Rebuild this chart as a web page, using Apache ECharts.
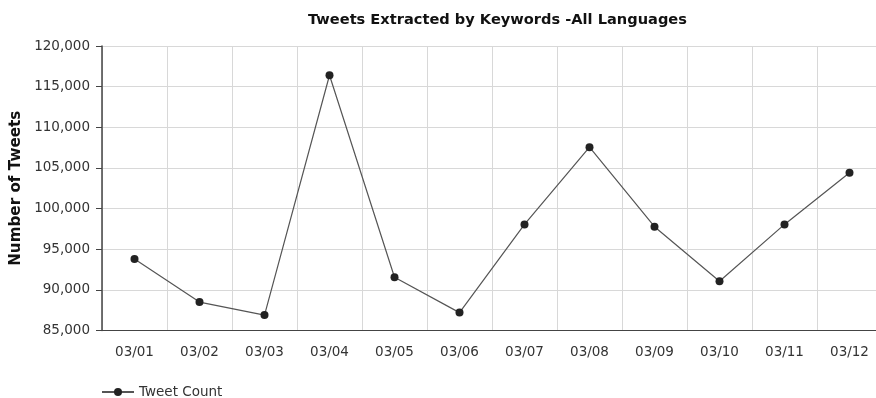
<!DOCTYPE html>
<html>
<head>
<meta charset="utf-8">
<script src="https://cdn.jsdelivr.net/npm/echarts@6/dist/echarts.min.js"></script>
<style>
  html, body { margin: 0; padding: 0; background: #fff; overflow: hidden; }
  /* the plot runs a few pixels past the right edge of the window */
  #chart { width: 884px; height: 398px; }
</style>
</head>
<body>
<div id="chart"></div>
<script>
// Daily tweet counts, March 1–12
const days = ['03/01', '03/02', '03/03', '03/04', '03/05', '03/06',
              '03/07', '03/08', '03/09', '03/10', '03/11', '03/12'];
const tweetCount = [93800, 88500, 86900, 116400, 91550, 87200,
                    98050, 107550, 97770, 91050, 98050, 104400];
const seriesName = 'Tweet Count';
const chartTitle = 'Tweets Extracted by Keywords -All Languages';
const yAxisTitle = 'Number of Tweets';

const font = 'Verdana, "DejaVu Sans", sans-serif';
const chart = echarts.init(document.getElementById('chart'), null, { renderer: 'canvas' });

chart.setOption({
  animation: false,
  backgroundColor: '#ffffff',
  title: {
    text: chartTitle,
    left: 303,
    top: 8,
    textStyle: { fontFamily: font, fontSize: 14.6, fontWeight: 'bold', color: '#111' }
  },
  legend: {
    left: 96,
    top: 380,
    itemWidth: 32,
    itemHeight: 10,
    itemGap: 6,
    data: [seriesName],
    textStyle: { fontFamily: font, fontSize: 13.5, color: '#333' }
  },
  grid: { left: 102, width: 780, top: 46, bottom: 67.5, containLabel: false },
  xAxis: {
    type: 'category',
    data: days,
    boundaryGap: true,
    axisLine: { lineStyle: { color: '#444', width: 1 } },
    axisTick: { alignWithLabel: true, length: 5, lineStyle: { color: '#444' } },
    axisLabel: { fontFamily: font, fontSize: 13.5, color: '#333', margin: 15 },
    splitLine: { show: true, interval: 0, lineStyle: { color: '#d8d8d8', width: 1 } }
  },
  yAxis: {
    type: 'value',
    min: 85000,
    max: 120000,
    interval: 5000,
    name: yAxisTitle,
    nameLocation: 'middle',
    nameGap: 73,
    nameTextStyle: { fontFamily: font, fontSize: 15.2, fontWeight: 'bold', color: '#111' },
    axisLine: { show: true, lineStyle: { color: '#444', width: 1.5 } },
    axisTick: { show: true, length: 6, lineStyle: { color: '#444' } },
    axisLabel: {
      fontFamily: font, fontSize: 13.5, color: '#333', margin: 12,
      formatter: v => v.toLocaleString('en-US')
    },
    splitLine: { show: true, lineStyle: { color: '#d8d8d8', width: 1 } }
  },
  series: [{
    name: seriesName,
    type: 'line',
    data: tweetCount,
    symbol: 'circle',
    symbolSize: 8,
    itemStyle: { color: '#222' },
    lineStyle: { color: '#555', width: 1.2 }
  }]
});
</script>
</body>
</html>
